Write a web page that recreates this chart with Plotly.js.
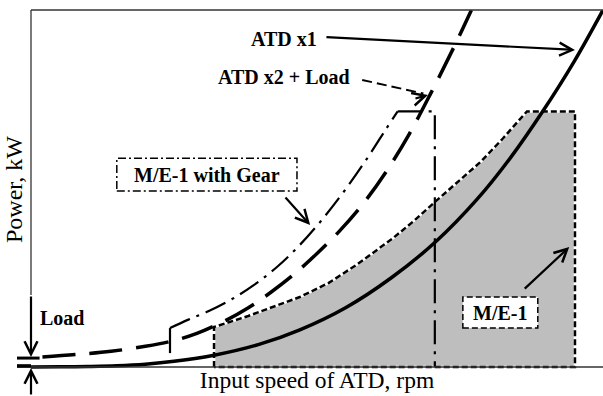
<!DOCTYPE html>
<html>
<head>
<meta charset="utf-8">
<script src="https://cdn.plot.ly/plotly-3.0.1.min.js"></script>
<style>html,body{margin:0;padding:0;background:#fff;}#chart{width:603px;height:396px;}</style>
</head>
<body>
<div id="chart"></div>
<script>
// ---- data (normalised: speed 0-100, power 0-100) ----
const atd1Speed = [0, 5, 10, 15, 20, 25, 32, 40, 47, 55, 63, 70.7, 78, 84, 89.5, 95, 100];
const atd1Power = [0, 0.05, 0.15, 0.35, 0.8, 1.6, 3.3, 6.4, 10.4, 16.6, 25, 35, 47, 59, 71.7, 85.7, 100];

const atd2Speed = [2, 8, 14, 20, 25, 29, 34, 38, 42, 46, 50, 54, 58, 62, 66, 70, 74, 77];
const atd2Power = [2.8, 3.5, 4.4, 5.8, 7.4, 9.4, 13.0, 16.6, 21.0, 26.0, 31.8, 38.2, 45.6, 54.5, 64.9, 77.0, 89.8, 100];

const gearStepSpeed = [24.3, 24.3];
const gearStepPower = [3.9, 10.9];
const gearCurveSpeed = [24.3, 27.4, 31, 35, 39, 43, 47, 51, 55, 59, 62, 64.1];
const gearCurvePower = [10.9, 13.2, 15.6, 18.9, 23.0, 28.0, 34.2, 41.5, 49.8, 59.0, 66.5, 71.6];
const gearLimitSpeed = [64.1, 70.6, 70.6];
const gearLimitPower = [71.6, 71.6, 0];

const meCurveSpeed = [32, 38, 43, 47, 52, 57, 63.3, 67, 70.6, 74.5, 78.5, 82.5, 86.7];
const meCurvePower = [11.2, 14.3, 17.2, 19.6, 23.5, 28.7, 36.1, 41, 46.2, 51.7, 57.3, 64, 71.6];
const meMaxSpeed = 95.1;
const meMaxPower = 71.6;
const loadPower = 2.5;

const meSpeed = [meCurveSpeed[0]].concat(meCurveSpeed, [meMaxSpeed, meMaxSpeed, meCurveSpeed[0]]);
const mePower = [0].concat(meCurvePower, [meMaxPower, 0, 0]);

const X_RANGE = [0, 100];
const Y_RANGE = [-0.56, 100];
const px = v => (v - X_RANGE[0]) / (X_RANGE[1] - X_RANGE[0]);
const py = v => (v - Y_RANGE[0]) / (Y_RANGE[1] - Y_RANGE[0]);

const serif = 'Liberation Serif, Times New Roman, serif';
const bold = {family: serif, size: 20, color: '#000', weight: 'bold'};

const traces = [
  {x: meSpeed, y: mePower, mode: 'lines', fill: 'toself', fillcolor: '#bebebe',
   line: {color: '#ffffff', width: 2.6}, hoverinfo: 'skip'},
  {x: meSpeed, y: mePower, mode: 'lines',
   line: {color: '#000', width: 2.5, dash: '6px,3px'}, hoverinfo: 'skip'},
  {x: atd1Speed, y: atd1Power, mode: 'lines',
   line: {color: '#000', width: 3.5, shape: 'spline'}},
  {x: atd2Speed, y: atd2Power, mode: 'lines',
   line: {color: '#000', width: 3.5, shape: 'spline', dash: '33px,14px'}},
  {x: gearStepSpeed, y: gearStepPower, mode: 'lines',
   line: {color: '#000', width: 2.2}},
  {x: gearCurveSpeed, y: gearCurvePower, mode: 'lines',
   line: {color: '#000', width: 2.2, shape: 'spline', dash: '22px,7px,3px,7px'}},
  {x: gearLimitSpeed, y: gearLimitPower, mode: 'lines',
   line: {color: '#000', width: 2.2, dash: '24px,7px,3px,7px'}}
];

const axisLine = {color: '#333', width: 1.3};
const shapes = [
  {type: 'line', xref: 'paper', yref: 'paper', x0: -14/572, x1: 1, y0: py(0), y1: py(0), line: axisLine, layer: 'above'},
  {type: 'line', xref: 'paper', yref: 'paper', x0: 0, x1: 1, y0: 1, y1: 1, line: axisLine, layer: 'above'},
  {type: 'line', xref: 'paper', yref: 'paper', x0: 0, x1: 0, y0: py(20.2), y1: 1, line: axisLine, layer: 'above'},
  {type: 'line', xref: 'paper', yref: 'paper', x0: -14/572, x1: 0, y0: py(0.3), y1: py(0.3), line: {color: '#000', width: 3.5}, layer: 'above'},
  {type: 'line', xref: 'paper', yref: 'paper', x0: -14/572, x1: px(1.5), y0: py(loadPower), y1: py(loadPower), line: {color: '#000', width: 3}, layer: 'above'},
  {type: 'line', xref: 'x', yref: 'y', x0: 57.9, y0: 80.4, x1: 68.6, y1: 76.6, line: {color: '#000', width: 2, dash: '10px,5px'}, layer: 'above'},
  {type: 'rect', xref: 'x', yref: 'y', x0: 15.0, x1: 46.5, y0: 49.3, y1: 58.5, fillcolor: '#fff',
   line: {color: '#000', width: 1.5, dash: '8px,3px,2px,3px'}, layer: 'above'},
  {type: 'rect', xref: 'x', yref: 'y', x0: 75.5, x1: 88.6, y0: 10.9, y1: 19.6, fillcolor: '#fff',
   line: {color: '#000', width: 1.5, dash: '6px,3px'}, layer: 'above'}
];

const arrow = (x, y, ax, ay, ref) => ({
  x: x, y: y, ax: ax, ay: ay, xref: ref || 'x', yref: ref || 'y', text: '',
  showarrow: true, arrowhead: 5, arrowsize: 1.15, arrowwidth: 2.2, arrowcolor: '#000',
  standoff: 0, startstandoff: 0
});

const annotations = [
  {x: 5.42, y: 13.7, text: 'Load', showarrow: false, font: bold},
  {x: 44.2, y: 91.9, text: 'ATD x1', showarrow: false, font: bold},
  {x: 44.3, y: 81.2, text: 'ATD x2 + Load', showarrow: false, font: bold},
  {x: 30.8, y: 53.8, text: 'M/E-1 with Gear', showarrow: false, font: bold},
  {x: 82.0, y: 15.1, text: 'M/E-1', showarrow: false, font: bold},
  arrow(95.1, 88.8, -250, -13),
  arrow(69.4, 76.2, -14, 4),
  arrow(48.8, 39.8, -26, -29),
  arrow(94.1, 33.6, -46, 43),
  arrow(0, py(2.8), 0, -62, 'paper'),
  arrow(0, py(-0.3), 0, 32, 'paper')
];

const layout = {
  width: 603, height: 396,
  margin: {l: 31, r: 0, t: 10, b: 27},
  paper_bgcolor: '#fff', plot_bgcolor: '#fff',
  showlegend: false,
  xaxis: {range: X_RANGE, showgrid: false, zeroline: false, showticklabels: false, ticks: '', showline: false,
          title: {text: 'Input speed of ATD, rpm', font: {family: serif, size: 23.5, color: '#000'}, standoff: 2}},
  yaxis: {range: Y_RANGE, showgrid: false, zeroline: false, showticklabels: false, ticks: '', showline: false,
          title: {text: 'Power, kW', font: {family: serif, size: 24, color: '#000'}, standoff: 0}},
  shapes: shapes,
  annotations: annotations
};

Plotly.newPlot('chart', traces, layout, {displayModeBar: false, staticPlot: true});
</script>
</body>
</html>
